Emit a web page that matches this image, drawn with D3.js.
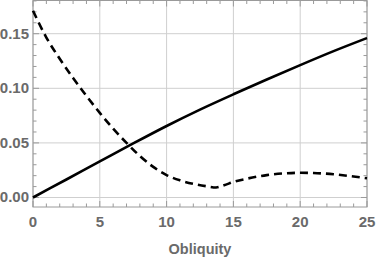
<!DOCTYPE html>
<html>
<head>
<meta charset="utf-8">
<script src="https://cdn.jsdelivr.net/npm/d3@7"></script>
<style>
  body { margin: 0; background: #fff; }
  text { font-family: "Liberation Sans", Arial, sans-serif; font-weight: bold; fill: #6a6a6a; }
</style>
</head>
<body>
<svg id="chart" width="378" height="262"></svg>
<script>
// obliquity in degrees
const solidX = [0, 2.5, 5, 7.5, 10, 12.5, 15, 17.5, 20, 22.5, 25];
const solidY = [0, 0.0165, 0.033, 0.0495, 0.0655, 0.0805, 0.0945, 0.108, 0.1212, 0.134, 0.146];

const dashedX = [0, 1, 2, 3, 4, 5, 6, 7, 8, 9, 10, 11, 12, 13, 13.7, 14.3, 15, 16, 17.5, 19, 20, 21, 22.5, 24, 25];
const dashedY = [0.171, 0.1465, 0.127, 0.1095, 0.093, 0.0775, 0.063, 0.050, 0.038, 0.028, 0.0205, 0.0157, 0.0125, 0.0103, 0.0092, 0.0112, 0.0143, 0.0172, 0.0205, 0.0222, 0.0226, 0.0224, 0.0213, 0.0192, 0.0176];

const xTicks = [0, 5, 10, 15, 20, 25];
const yTicks = [0, 0.05, 0.10, 0.15];

const svg = d3.select("#chart");
const mLeft = 33, mRight = 367, mTop = 0.5, mBottom = 207;

const x = d3.scaleLinear().domain([0, 25]).range([mLeft, mRight]);
const y = d3.scaleLinear().domain([-0.0087, 0.1804]).range([mBottom, mTop]);

// grid
svg.append("g").selectAll("line").data(xTicks).enter().append("line")
    .attr("x1", d => x(d)).attr("x2", d => x(d))
    .attr("y1", mTop).attr("y2", mBottom)
    .attr("stroke", "#cfcfcf").attr("stroke-width", 1);
svg.append("g").selectAll("line").data(yTicks).enter().append("line")
    .attr("x1", mLeft).attr("x2", mRight)
    .attr("y1", d => y(d)).attr("y2", d => y(d))
    .attr("stroke", "#cfcfcf").attr("stroke-width", 1);

// frame ticks (pointing inward)
const xMinor = d3.range(0, 25.01, 1);
const yMinor = d3.range(0, 0.1801, 0.01);
const tickG = svg.append("g").attr("stroke", "#9a9a9a").attr("stroke-width", 1);
xMinor.forEach(v => {
    const len = xTicks.includes(v) ? 6 : 3.5;
    tickG.append("line").attr("x1", x(v)).attr("x2", x(v)).attr("y1", mBottom).attr("y2", mBottom - len);
    tickG.append("line").attr("x1", x(v)).attr("x2", x(v)).attr("y1", mTop).attr("y2", mTop + len);
});
yMinor.forEach((v, i) => {
    const len = i % 5 === 0 ? 6 : 3.5;
    tickG.append("line").attr("x1", mLeft).attr("x2", mLeft + len).attr("y1", y(v)).attr("y2", y(v));
    tickG.append("line").attr("x1", mRight).attr("x2", mRight - len).attr("y1", y(v)).attr("y2", y(v));
});

svg.append("rect")
    .attr("x", mLeft).attr("y", mTop)
    .attr("width", mRight - mLeft).attr("height", mBottom - mTop)
    .attr("fill", "none").attr("stroke", "#9a9a9a").attr("stroke-width", 1);

// tick labels
svg.append("g").selectAll("text").data(xTicks).enter().append("text")
    .attr("x", d => x(d)).attr("y", 226.5)
    .attr("text-anchor", "middle").attr("font-size", 15)
    .text(d => d);
svg.append("g").selectAll("text").data(yTicks).enter().append("text")
    .attr("x", 29).attr("y", d => y(d) + 5)
    .attr("text-anchor", "end").attr("font-size", 15)
    .text(d => d.toFixed(2));

svg.append("text")
    .attr("x", (mLeft + mRight) / 2).attr("y", 253.5)
    .attr("text-anchor", "middle").attr("font-size", 14.5)
    .text("Obliquity");

// curves
const line = d3.line().x(d => x(d[0])).y(d => y(d[1])).curve(d3.curveMonotoneX);

svg.append("path")
    .datum(solidX.map((v, i) => [v, solidY[i]]))
    .attr("d", line)
    .attr("fill", "none").attr("stroke", "#000").attr("stroke-width", 2.6);

svg.append("path")
    .datum(dashedX.map((v, i) => [v, dashedY[i]]))
    .attr("d", line)
    .attr("fill", "none").attr("stroke", "#000").attr("stroke-width", 2.6)
    .attr("stroke-dasharray", "8,5");
</script>
</body>
</html>
